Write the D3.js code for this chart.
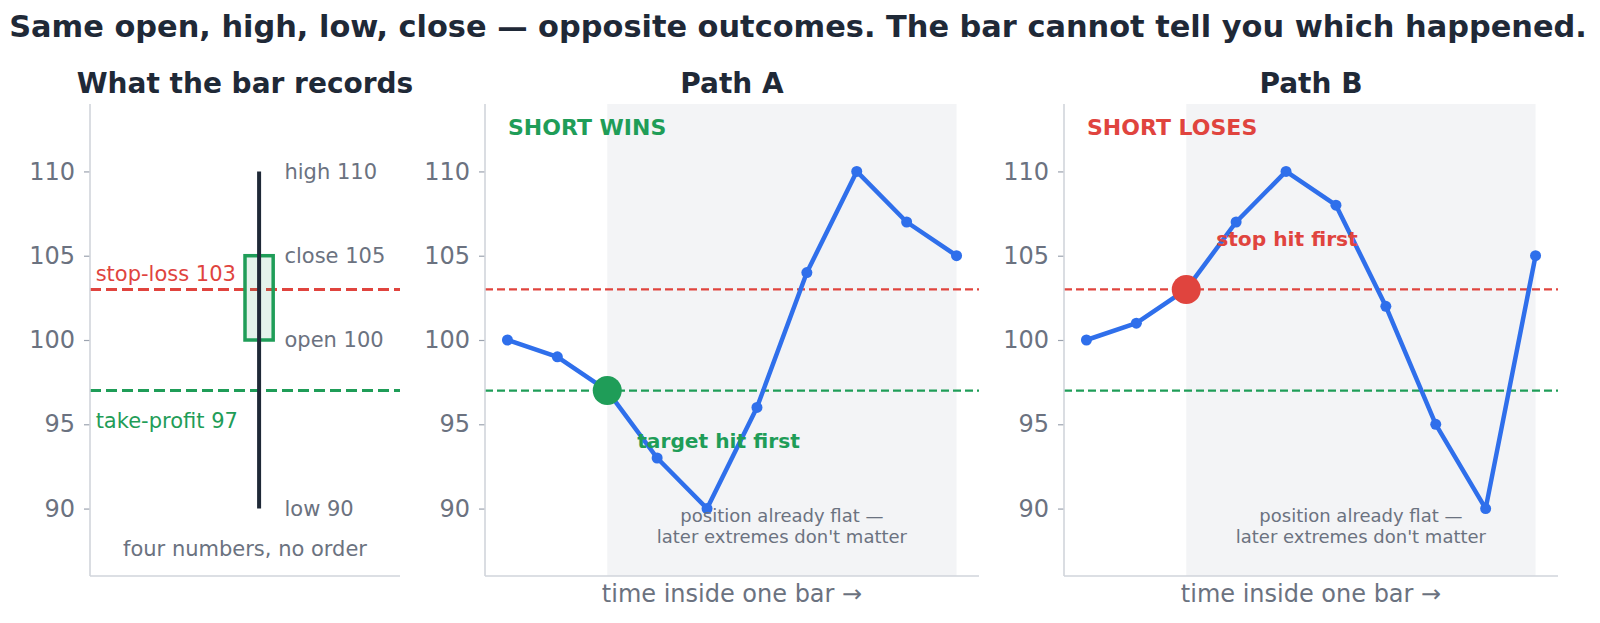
<!DOCTYPE html>
<html>
<head>
<meta charset="utf-8">
<script src="https://cdn.jsdelivr.net/npm/d3@7"></script>
<style>
  body { margin: 0; background: #fff; }
  svg text { font-family: "DejaVu Sans", sans-serif; }
</style>
</head>
<body>
<div id="chart"></div>
<script>
// what one bar keeps
var barLabels = ["high", "close", "open", "low"];
var barValues = [110, 105, 100, 90];
var openValue = 100, closeValue = 105, highValue = 110, lowValue = 90;

var stopLoss = 103;
var takeProfit = 97;

// two paths inside the same bar
var pathA = [100, 99, 97, 93, 90, 96, 104, 110, 107, 105];
var pathB = [100, 101, 103, 107, 110, 108, 102, 95, 90, 105];
var exitIndex = 2;

var yTicks = [90, 95, 100, 105, 110];

var width = 1600, height = 623;
var plotTop = 104, plotBottom = 576;

var dark = "#1f2937", gray = "#6b7280", spineColor = "#d1d5db";
var red = "#e0443e", green = "#1f9d58", blue = "#2f6feb", shade = "#f3f4f6";

var svg = d3.select("#chart").append("svg")
	.attr("width", width)
	.attr("height", height);

svg.append("text")
	.attr("x", 798).attr("y", 37)
	.attr("text-anchor", "middle")
	.attr("font-size", 30.4).attr("font-weight", "bold")
	.attr("fill", dark)
	.text("Same open, high, low, close \u2014 opposite outcomes. The bar cannot tell you which happened.");

var y = d3.scaleLinear().domain([86, 114]).range([plotBottom, plotTop]);

function frame(x0, x1, title){
	var g = svg.append("g");
	g.append("text")
		.attr("x", (x0 + x1) / 2).attr("y", 93)
		.attr("text-anchor", "middle")
		.attr("font-size", 28).attr("font-weight", "bold")
		.attr("fill", dark)
		.text(title);
	return g;
}

function spines(g, x0, x1){
	var ax = g.append("g")
		.attr("transform", "translate(" + x0 + ",0)")
		.call(d3.axisLeft(y).tickValues(yTicks).tickSize(6).tickPadding(9));
	ax.select(".domain").remove();
	ax.selectAll(".tick line").attr("stroke", "#9ca3af").attr("stroke-width", 1.2);
	ax.selectAll(".tick text")
		.attr("fill", gray)
		.attr("font-size", 24)
		.attr("font-family", "DejaVu Sans");
	g.append("line").attr("x1", x0).attr("x2", x0).attr("y1", plotTop).attr("y2", plotBottom)
		.attr("stroke", spineColor).attr("stroke-width", 1.6);
	g.append("line").attr("x1", x0).attr("x2", x1).attr("y1", plotBottom).attr("y2", plotBottom)
		.attr("stroke", spineColor).attr("stroke-width", 1.6);
}

function hline(g, x0, x1, v, color, w, dash){
	g.append("line")
		.attr("x1", x0).attr("x2", x1)
		.attr("y1", y(v)).attr("y2", y(v))
		.attr("stroke", color).attr("stroke-width", w)
		.attr("stroke-dasharray", dash);
}

// ---- panel 1: the bar itself
(function(){
	var x0 = 90, x1 = 400;
	var x = d3.scaleLinear().domain([-0.6, 0.5]).range([x0, x1]);
	var g = frame(x0, x1, "What the bar records");

	hline(g, x0, x1, stopLoss, red, 3, "11 5");
	hline(g, x0, x1, takeProfit, green, 3, "11 5");

	g.append("rect")
		.attr("x", x(-0.05)).attr("width", x(0.05) - x(-0.05))
		.attr("y", y(closeValue)).attr("height", y(openValue) - y(closeValue))
		.attr("fill", green).attr("fill-opacity", 0.12)
		.attr("stroke", green).attr("stroke-width", 3.5);

	g.append("line")
		.attr("x1", x(0)).attr("x2", x(0))
		.attr("y1", y(highValue)).attr("y2", y(lowValue))
		.attr("stroke", dark).attr("stroke-width", 4);

	g.selectAll("text.ohlc").data(barValues).enter().append("text")
		.attr("class", "ohlc")
		.attr("x", x(0.09))
		.attr("y", function(d){ return y(d); })
		.attr("dy", "0.35em")
		.attr("font-size", 21).attr("fill", gray)
		.text(function(d, i){ return barLabels[i] + " " + d; });

	g.append("text")
		.attr("x", x(-0.58)).attr("y", y(stopLoss) - 8)
		.attr("font-size", 21).attr("fill", red)
		.text("stop-loss " + stopLoss);
	g.append("text")
		.attr("x", x(-0.58)).attr("y", y(takeProfit) + 37)
		.attr("font-size", 21).attr("fill", green)
		.text("take-profit " + takeProfit);

	g.append("text")
		.attr("x", (x0 + x1) / 2).attr("y", y(87.6))
		.attr("dy", "0.35em")
		.attr("text-anchor", "middle")
		.attr("font-size", 21).attr("fill", gray)
		.text("four numbers, no order");

	spines(g, x0, x1);
})();

// ---- panels 2 and 3: two paths
function pathPanel(x0, x1, title, values, verdict, color, note, noteValue){
	var x = d3.scaleLinear().domain([-0.45, values.length - 1 + 0.45]).range([x0, x1]);
	var g = frame(x0, x1, title);

	g.append("rect")
		.attr("x", x(exitIndex)).attr("width", x(values.length - 1) - x(exitIndex))
		.attr("y", plotTop).attr("height", plotBottom - plotTop)
		.attr("fill", shade);

	hline(g, x0, x1, stopLoss, red, 2.2, "8 4");
	hline(g, x0, x1, takeProfit, green, 2.2, "8 4");

	var line = d3.line()
		.x(function(d, i){ return x(i); })
		.y(function(d){ return y(d); });

	g.append("path")
		.datum(values)
		.attr("d", line)
		.attr("fill", "none")
		.attr("stroke", blue).attr("stroke-width", 4.5)
		.attr("stroke-linejoin", "round");

	g.selectAll("circle.pt").data(values).enter().append("circle")
		.attr("class", "pt")
		.attr("cx", function(d, i){ return x(i); })
		.attr("cy", function(d){ return y(d); })
		.attr("r", 5.5)
		.attr("fill", blue);

	g.append("circle")
		.attr("cx", x(exitIndex)).attr("cy", y(values[exitIndex]))
		.attr("r", 14.5)
		.attr("fill", color);

	g.append("text")
		.attr("x", x0 + 23).attr("y", 135)
		.attr("font-size", 22).attr("font-weight", "bold")
		.attr("fill", color)
		.text(verdict);

	g.append("text")
		.attr("x", x(2.6)).attr("y", y(noteValue))
		.attr("dy", "0.35em")
		.attr("font-size", 20.2).attr("font-weight", "bold")
		.attr("fill", color)
		.text(note);

	var flat = g.append("text")
		.attr("text-anchor", "middle")
		.attr("font-size", 18).attr("fill", gray);
	flat.append("tspan").attr("x", x(5.5)).attr("y", y(89) - 3.5).text("position already flat \u2014");
	flat.append("tspan").attr("x", x(5.5)).attr("y", y(89) + 18).text("later extremes don't matter");

	g.append("text")
		.attr("x", (x0 + x1) / 2).attr("y", 602)
		.attr("text-anchor", "middle")
		.attr("font-size", 24).attr("fill", gray)
		.text("time inside one bar \u2192");

	spines(g, x0, x1);
}

pathPanel(485, 979, "Path A", pathA, "SHORT WINS", green, "target hit first", 94);
pathPanel(1064, 1558, "Path B", pathB, "SHORT LOSES", red, "stop hit first", 106);
</script>
</body>
</html>
